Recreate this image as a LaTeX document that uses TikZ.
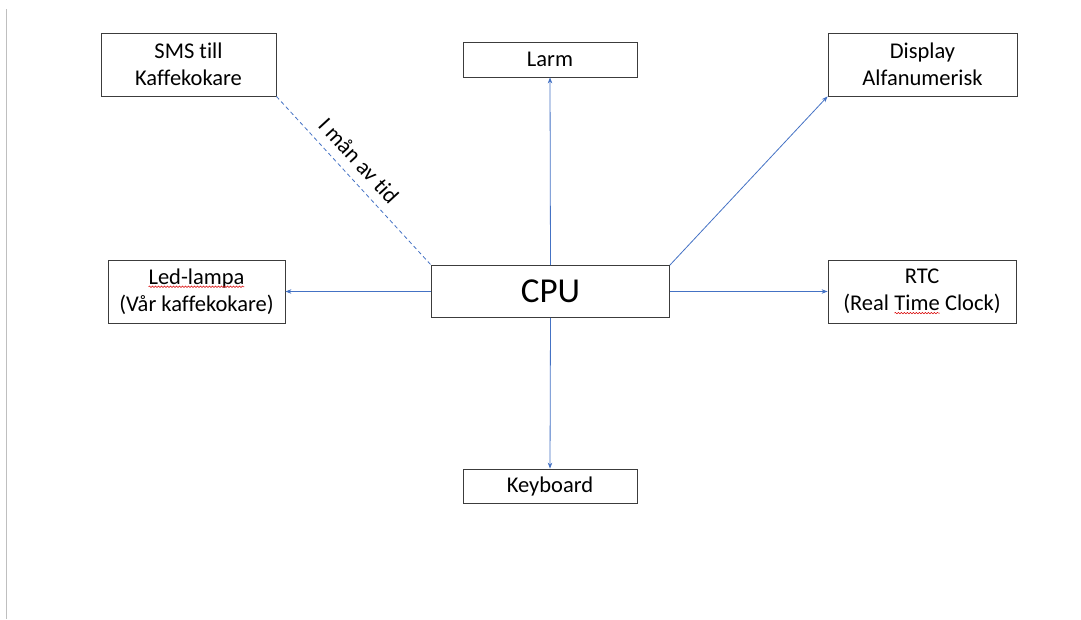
\documentclass[tikz,border=0pt]{standalone}
\usepackage{fontspec}
\setmainfont{Carlito}[Ligatures=NoCommon]
\usetikzlibrary{arrows.meta,decorations.pathmorphing}
\definecolor{linkblue}{RGB}{68,114,196}
\definecolor{boxline}{RGB}{60,60,60}
\newcommand\wavyline[1]{\tikz[baseline=(w.base)]{\node[inner sep=0pt,outer sep=0pt,draw=none,minimum width=0pt,minimum height=0pt,text=black](w){#1};\draw[red!85!black,line width=0.5pt,decorate,decoration={snake,amplitude=0.7pt,segment length=3pt}]([yshift=-2.5pt]w.base west)--([yshift=-2.5pt]w.base east);}}
\tikzset{
  box/.style={draw=boxline,line width=0.8pt,fill=white,inner sep=0pt,align=center,
    font=\fontsize{22.5}{27}\selectfont},
  link/.style={linkblue,line width=0.8pt,-{Stealth[length=6pt,width=4.5pt]}},
  dashlink/.style={linkblue,line width=0.8pt,dash pattern=on 4pt off 3pt},
}
\begin{document}
\begin{tikzpicture}[x=1pt,y=-1pt]
\useasboundingbox (0,0) rectangle (1081,619);
\draw[black!25,line width=1pt] (6.5,9) -- (6.5,619);
\node[box,minimum width=238pt,minimum height=52pt,font=\fontsize{35}{40}\selectfont] (cpu) at (550.5,291.5) {CPU};
\node[box,minimum width=175pt,minimum height=63pt] (sms) at (188.5,64.5) {SMS till\\Kaffekokare};
\node[box,minimum width=174pt,minimum height=35pt] (larm) at (550,59.5) {Larm};
\node[box,minimum width=189pt,minimum height=63pt] (disp) at (922.5,64.5) {Display\\Alfanumerisk};
\node[box,minimum width=177pt,minimum height=63pt] (led) at (196.5,291.5) {\wavyline{Led-lampa}\\(Vår kaffekokare)};
\node[box,minimum width=188pt,minimum height=63pt] (rtc) at (922,291.5) {RTC\\(Real \wavyline{Time} Clock)};
\node[box,minimum width=174pt,minimum height=34pt] (kb) at (550,486) {Keyboard};
\draw[dashlink] (sms.south east) -- node[pos=0.45,sloped,anchor=south,inner sep=9pt,text=black,font=\fontsize{22.5}{27}\selectfont] (lbl) {I mån av tid} (cpu.north west);
\draw[link] (cpu.north east) -- (disp.south west);
\draw[link] (cpu.north) -- (larm.south);
\draw[link] (cpu.south) -- (kb.north);
\draw[link] (cpu.west) -- (led.east);
\draw[link] (cpu.east) -- (rtc.west);
\end{tikzpicture}
\end{document}
